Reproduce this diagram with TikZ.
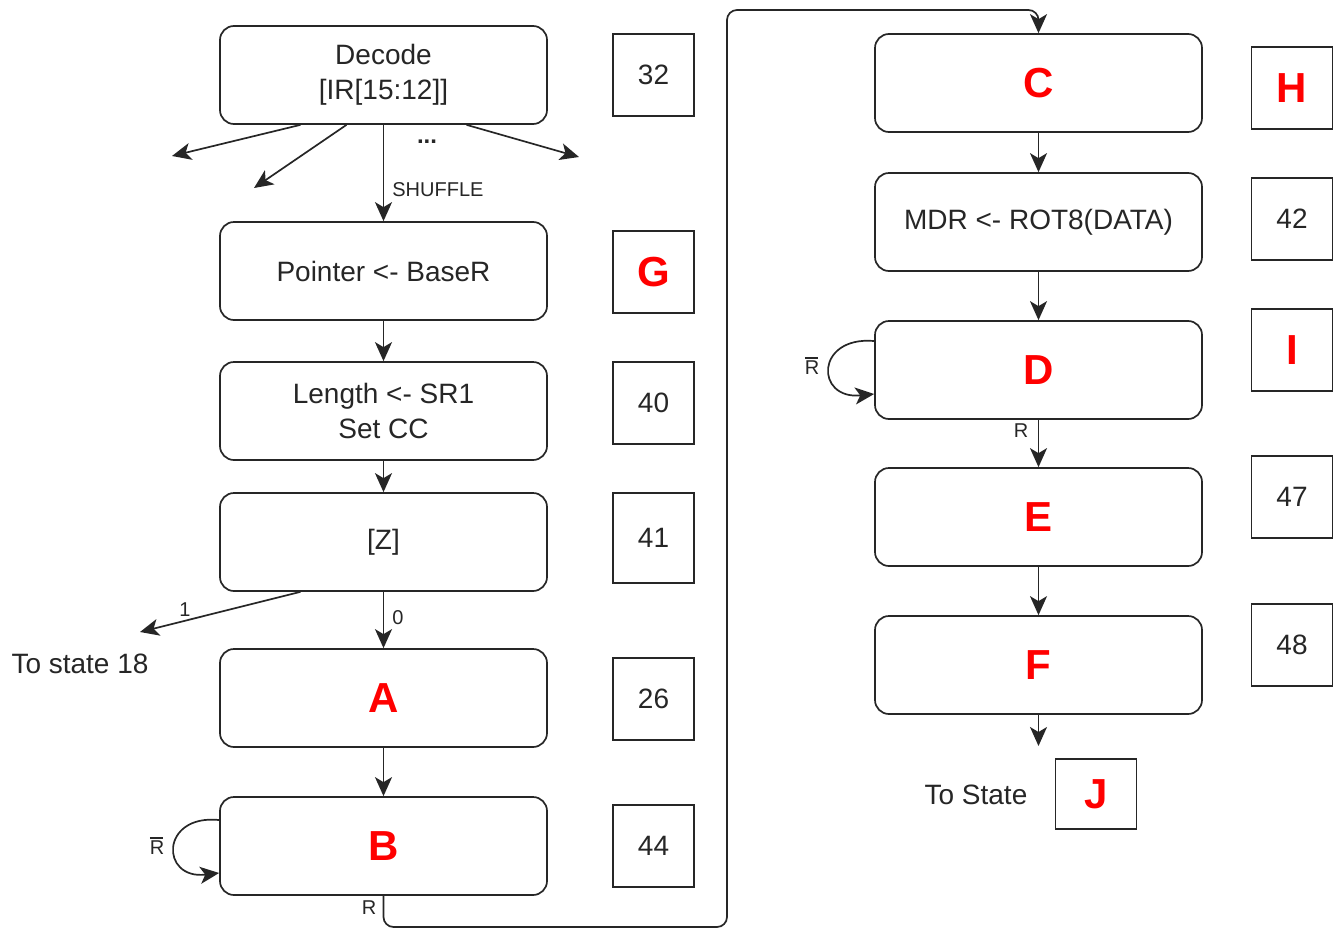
\documentclass[tikz,border=0pt]{standalone}
\usepackage{fontspec}
\setmainfont{Liberation Sans}
\usetikzlibrary{arrows.meta}
\definecolor{ink}{HTML}{262626}
\definecolor{redl}{HTML}{FF0000}
\newcommand{\Rbar}{\makebox[0pt][l]{\rule[0.82em]{0.68em}{0.07em}}R}
\begin{document}
\begin{tikzpicture}[x=1pt,y=-1pt,
  every node/.style={text=ink},
  box/.style={draw=ink, line width=1.7pt, rounded corners=14, minimum width=327, minimum height=98, align=center, inner sep=0pt, font=\fontsize{28}{35}\selectfont},
  numbox/.style={draw=ink, line width=1.7pt, minimum width=81, minimum height=82, inner sep=0pt, font=\fontsize{28}{32}\selectfont},
  big/.style={font=\fontsize{42}{42}\selectfont\bfseries, text=redl},
  lbl/.style={font=\fontsize{20}{22}\selectfont, inner sep=0pt},
  txt/.style={font=\fontsize{28}{32}\selectfont, inner sep=0pt},
  arr/.style={draw=ink, line width=1.7pt, -{Stealth[length=19pt,width=17pt,inset=5pt]}}
]
\useasboundingbox (0,0) rectangle (1339,929);
% left column
\node[box] (dec) at (383.5,75) {Decode\\{[IR[15:12]]}};
\node[box] (ptr) at (383.5,271) {Pointer <- BaseR};
\node[box] (len) at (383.5,411) {Length <- SR1\\Set CC};
\node[box] (z) at (383.5,542) {[Z]};
\node[box, big] (A) at (383.5,698) {A};
\node[box, big] (B) at (383.5,846) {B};
% left numbers
\node[numbox] (n32) at (653.5,75) {32};
\node[numbox, big] (nG) at (653.5,272) {G};
\node[numbox] (n40) at (653.5,403) {40};
\node[numbox, minimum height=90] (n41) at (653.5,538) {41};
\node[numbox] (n26) at (653.5,699) {26};
\node[numbox] (n44) at (653.5,846) {44};
% right column
\node[box, big] (C) at (1038.5,83) {C};
\node[box] (mdr) at (1038.5,222) {MDR <- ROT8(DATA)};
\node[box, big] (D) at (1038.5,370) {D};
\node[box, big] (E) at (1038.5,517) {E};
\node[box, big] (F) at (1038.5,665) {F};
% right numbers
\node[numbox, big] (nH) at (1292,88) {H};
\node[numbox] (n42) at (1292,219) {42};
\node[numbox, big] (nI) at (1292,350) {I};
\node[numbox] (n47) at (1292,497) {47};
\node[numbox] (n48) at (1292,645) {48};
\node[numbox, big, minimum height=70] (nJ) at (1096,794) {J};
\node[txt] (tostate) at (976,795) {To State};
\node[txt] (to18) at (80,664) {To state 18};
% decode fan-out
\coordinate (d1) at (172,156);
\coordinate (d2) at (254,188);
\coordinate (d3) at (579,157);
\draw[arr] ([xshift=-83]dec.south) -- (d1);
\draw[arr] ([xshift=-37]dec.south) -- (d2);
\draw[arr] ([xshift=83]dec.south) -- (d3);
\node[lbl, font=\fontsize{24}{24}\selectfont\bfseries] (dots) at (427,142) {...};
\draw[arr] (dec.south) -- node[lbl, anchor=west, pos=0.67, xshift=8] (shuf) {SHUFFLE} (ptr.north);
\draw[arr] (ptr.south) -- (len.north);
\draw[arr] (len.south) -- (z.north);
\coordinate (s18) at (140,632);
\draw[arr] ([xshift=-83]z.south) -- node[lbl, pos=0.72, above, yshift=3] (one) {1} (s18);
\draw[arr] (z.south) -- node[lbl, right, pos=0.45, xshift=8] (zero) {0} (A.north);
\draw[arr] (A.south) -- (B.north);
% B self loop
\draw[arr] ([yshift=26]B.west) .. controls (160,814) and (160,880) .. ([yshift=-27]B.west);
\node[lbl] (rb1) at (157,846) {\Rbar};
% B -> C
\coordinate (p1) at (727,927);
\coordinate (p2) at (727,10);
\draw[arr, rounded corners=10] (B.south) |- (p1) -- (p2) -| (C.north);
\node[lbl] (r1) at (369,908) {R};
% right chain
\draw[arr] (C.south) -- (mdr.north);
\draw[arr] (mdr.south) -- (D.north);
\draw[arr] ([yshift=29]D.west) .. controls (815,336) and (815,400) .. ([yshift=-24]D.west);
\node[lbl] (rb2) at (812,366) {\Rbar};
\draw[arr] (D.south) -- (E.north);
\node[lbl] (r2) at (1021,431) {R};
\draw[arr] (E.south) -- (F.north);
\coordinate (fend) at (1038.5,746);
\draw[arr] (F.south) -- (fend);
\end{tikzpicture}
\end{document}
